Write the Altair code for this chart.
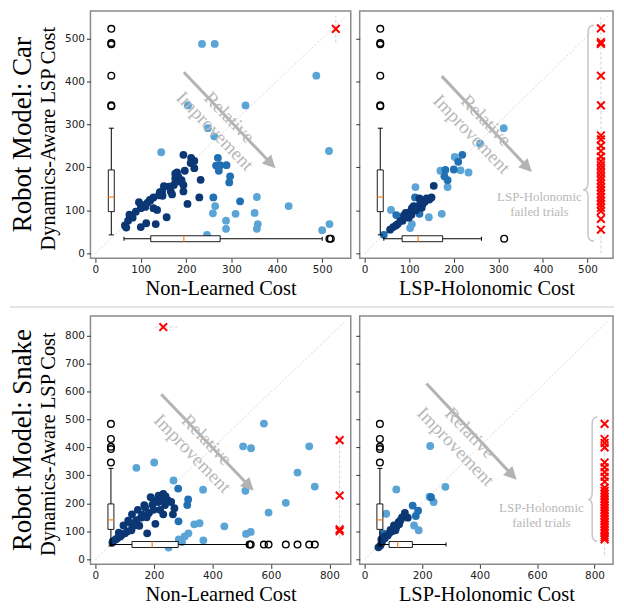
import altair as alt
import pandas as pd

# ---------------- DATA ----------------
# Car, Non-Learned cost (x) vs Dynamics-Aware LSP cost (y)
CAR_NL_LIGHT_X = [235, 263, 487, 204, 331, 248, 262, 145, 515, 426, 356, 264, 259, 288, 288, 246, 309, 351, 358, 356, 500, 516]
CAR_NL_LIGHT_Y = [487, 487, 413, 344, 344, 291, 272, 235, 238, 110, 131, 110, 93, 76, 57, 43, 92, 94, 68, 57, 54, 68]
CAR_NL_MED_X = [260, 319, 270, 275, 266, 289, 272, 297, 295]
CAR_NL_MED_Y = [130, 121, 222, 205, 204, 205, 192, 179, 165]
CAR_NL_DARK_X = [194, 211, 218, 210, 218, 197, 180, 176, 190, 194, 173, 166, 194, 147, 169, 232, 229, 203, 128, 121,
                 96, 110, 100, 128, 136, 89, 75, 82, 72, 65, 68, 157, 112, 100, 133, 183, 186, 162, 151, 120,
                 142, 148, 176, 105, 115, 140]
CAR_NL_DARK_Y = [229, 222, 215, 210, 198, 192, 188, 174, 170, 159, 159, 144, 144, 144, 137, 171, 130, 115, 130, 123,
                 119, 108, 105, 105, 101, 97, 90, 83, 76, 65, 60, 84, 70, 61, 68, 178, 167, 155, 156, 124,
                 142, 134, 185, 112, 118, 135]

# Car, LSP-Holonomic cost (x) vs Dynamics-Aware LSP cost (y)
CAR_H_LIGHT_X = [312, 259, 202, 215, 233, 170, 186, 114, 173, 144, 59, 106, 102]
CAR_H_LIGHT_Y = [291, 255, 224, 193, 188, 192, 154, 154, 92, 84, 101, 68, 59]
CAR_H_MED_X = [219, 210, 200, 181, 179, 113, 123, 71, 43, 186]
CAR_H_MED_Y = [229, 213, 195, 194, 179, 130, 92, 89, 43, 170]
CAR_H_DARK_X = [155, 123, 139, 130, 120, 106, 128, 92, 99, 85, 74, 64, 57, 110, 115, 135, 145, 100, 80, 70, 88, 125, 150, 105]
CAR_H_DARK_Y = [157, 128, 128, 115, 108, 105, 106, 94, 83, 76, 68, 61, 55, 110, 100, 120, 125, 95, 75, 65, 88, 118, 130, 90]

# Snake, Non-Learned cost (x) vs Dynamics-Aware LSP cost (y)
SNK_NL_LIGHT_X = [576, 505, 532, 731, 691, 750, 651, 592, 513, 368, 201, 140, 267, 441, 369, 338, 356, 318, 305, 285, 296, 250, 515, 531]
SNK_NL_LIGHT_Y = [485, 404, 397, 404, 310, 260, 202, 167, 245, 249, 346, 327, 282, 118, 68, 125, 129, 93, 82, 71, 62, 42, 91, 98]
SNK_NL_MED_X = [283, 284, 317, 314]
SNK_NL_MED_Y = [253, 136, 214, 194]
SNK_NL_DARK_X = [58, 69, 85, 101, 96, 123, 134, 125, 156, 167, 177, 183, 199, 205, 216, 232, 248, 259, 238, 221,
                 205, 232, 270, 265, 189, 145, 112, 75, 90, 110, 140, 160, 175, 195, 215, 60, 80, 150, 170, 225, 240, 120]
SNK_NL_DARK_Y = [60, 71, 82, 93, 121, 104, 121, 161, 149, 194, 93, 166, 177, 211, 228, 234, 211, 205, 194, 177,
                 127, 161, 183, 161, 222, 177, 138, 75, 88, 100, 140, 160, 150, 195, 205, 65, 95, 120, 185, 215, 225, 130]

# Snake, LSP-Holonomic cost (x) vs Dynamics-Aware LSP cost (y)
SNK_H_LIGHT_X = [228, 281, 110, 75, 172, 188, 240, 226]
SNK_H_LIGHT_Y = [405, 259, 250, 163, 121, 104, 205, 224]
SNK_H_MED_X = [231, 167, 186, 178, 64]
SNK_H_MED_Y = [222, 192, 174, 155, 93]
SNK_H_DARK_X = [140, 118, 102, 107, 85, 69, 58, 48, 150, 125, 95, 80, 130, 110, 90, 60, 55, 70, 100, 120]
SNK_H_DARK_Y = [166, 133, 121, 104, 93, 82, 71, 43, 149, 140, 100, 85, 150, 115, 105, 60, 50, 75, 110, 125]

# Box-plot summaries: [low whisker, q1, median, q3, high whisker] and outliers
CAR_Y_BOX = [43, 97, 131, 194, 291]
CAR_Y_OUT = [522, 489, 486, 413, 344, 342]
CAR_NL_X_BOX = [63, 122, 195, 275, 500]
CAR_NL_X_OUT = [516, 519]
CAR_H_X_BOX = [43, 84, 120, 175, 262]
CAR_H_X_OUT = [313]
SNK_Y_BOX = [48, 107, 141, 198, 325]
SNK_Y_OUT = [346, 394, 402, 430, 484]
SNK_NL_X_BOX = [53, 125, 194, 283, 522]
SNK_NL_X_OUT = [527, 531, 576, 592, 651, 691, 731, 750]
SNK_H_X_BOX = [50, 85, 115, 166, 283]
SNK_H_X_OUT = []

# Failed trials (plotted at the "failure" cost)
CAR_NL_FAIL_X = [530]
CAR_NL_FAIL_Y = [522]
CAR_H_FAIL_Y = [523, 491, 487, 413, 344, 274, 265, 250, 238, 225, 214, 205, 196, 187, 178, 170, 162, 154,
                146, 138, 130, 122, 114, 106, 98, 80, 55]
SNK_NL_FAIL_X = [232, 835, 835, 835, 835]
SNK_NL_FAIL_Y = [830, 426, 228, 107, 101]
SNK_H_FAIL_Y = [484, 430, 416, 400, 346, 329, 312, 295, 278, 256, 245, 235, 225, 215, 205, 195, 185, 175,
                165, 155, 145, 135, 125, 115, 105, 95, 85, 78, 71]

ROW_LABELS = ["Robot Model: Car", "Robot Model: Snake"]
Y_TITLE = "Dynamics-Aware LSP Cost"
X_TITLES = ["Non-Learned Cost", "LSP-Holonomic Cost"]
ARROW_TEXT = "Relative\nImprovement"
HOLO_TEXT = "LSP-Holonomic\nfailed trials"

# ---------------- STYLE ----------------
SERIF = "Liberation Serif"
SANS = "DejaVu Sans"
LIGHT, MED, DARK = "#5aa4d6", "#2170b4", "#0b3774"
ARROW_C = "#b3b3b3"
TXT_GRAY = "#b8b8b8"
XPATH = "M-1,-1L1,1M-1,1L1,-1"
HEAD = "M0,0L-13,-6.5L-13,6.5Z"


def brace_path(top, bot, stem, tip, r=7):
    return (f"M{tip},{top} Q{stem},{top} {stem},{top + r} L{stem},{-r} Q{stem},0 0,0 "
            f"Q{stem},0 {stem},{r} L{stem},{bot - r} Q{stem},{bot} {tip},{bot}")


def df1(**kw):
    return pd.DataFrame({k: [v] for k, v in kw.items()})


def panel(p):
    W, H, xmax, ymax = p["W"], p["H"], p["xmax"], p["ymax"]
    xs = alt.Scale(domain=[0, xmax], nice=False, zero=False)
    ys = alt.Scale(domain=[0, ymax], nice=False, zero=False)
    common = dict(tickSize=4, tickColor="#333333", tickWidth=1, labelFont=SANS, labelFontSize=10.5,
                  labelColor="#222222", labelPadding=2, domain=False, grid=False)
    xaxis = alt.Axis(values=p["xticks"], labelFlush=False, title=p["xtitle"], titleFont=SERIF,
                     titleFontSize=20.5, titleFontWeight="normal", titleColor="black", titlePadding=4, **common)
    if p["left"]:
        yaxis = alt.Axis(values=p["yticks"], title=None, **common)
    else:
        yaxis = alt.Axis(values=p["yticks"], labels=False, title=None, **common)
    X = alt.X("x:Q", scale=xs, axis=xaxis)
    Y = alt.Y("y:Q", scale=ys, axis=yaxis)
    X2 = alt.X2("x2")
    Y2 = alt.Y2("y2")
    layers = []

    # diagonal y = x
    layers.append(alt.Chart(df1(x=0, y=0, x2=xmax, y2=ymax)).mark_rule(
        color="#cfcfcf", strokeWidth=0.8, strokeDash=[2, 2]).encode(x=X, y=Y, x2=X2, y2=Y2))
    # dashed guide lines for failures
    if p["fail_lines"]:
        layers.append(alt.Chart(pd.DataFrame(p["fail_lines"])).mark_rule(
            color="#cccccc", strokeWidth=0.9, strokeDash=[3, 2]).encode(x=X, y=Y, x2=X2, y2=Y2))

    # scatter
    rows = []
    for s, (xx, yy) in (("l", p["light"]), ("m", p["med"]), ("d", p["dark"])):
        rows += [{"x": a, "y": b, "s": s} for a, b in zip(xx, yy)]
    layers.append(alt.Chart(pd.DataFrame(rows)).mark_circle(size=62, opacity=1).encode(
        x=X, y=Y, color=alt.Color("s:N", scale=alt.Scale(domain=["l", "m", "d"], range=[LIGHT, MED, DARK]),
                                  legend=None)))

    # horizontal box plot (x distribution)
    lo, q1, md, q3, hi = p["xbox"]
    at = p["xbox_at"]
    layers.append(alt.Chart(pd.DataFrame([{"x": lo, "x2": q1, "y": at}, {"x": q3, "x2": hi, "y": at}])).mark_rule(
        color="black", strokeWidth=1).encode(x=X, x2=X2, y=Y))
    layers.append(alt.Chart(df1(x=q1, x2=q3, y=at)).mark_bar(
        height=6, fill="white", stroke="black", strokeWidth=0.9, opacity=1).encode(x=X, x2=X2, y=Y))
    layers.append(alt.Chart(df1(x=md, y=at)).mark_tick(
        orient="vertical", size=6, thickness=1.2, color="#ff7f0e", opacity=1).encode(x=X, y=Y))
    layers.append(alt.Chart(pd.DataFrame({"x": [lo, hi], "y": [at, at]})).mark_tick(
        orient="vertical", size=4, thickness=1, color="black", opacity=1).encode(x=X, y=Y))
    if p["xout"]:
        layers.append(alt.Chart(pd.DataFrame({"x": p["xout"], "y": [at] * len(p["xout"])})).mark_point(
            shape="circle", size=45, filled=False, color="black", strokeWidth=1.4, opacity=1).encode(x=X, y=Y))

    # vertical box plot (y distribution)
    lo, q1, md, q3, hi = p["ybox"]
    at = p["ybox_at"]
    layers.append(alt.Chart(pd.DataFrame([{"x": at, "y": lo, "y2": q1}, {"x": at, "y": q3, "y2": hi}])).mark_rule(
        color="black", strokeWidth=1).encode(x=X, y=Y, y2=Y2))
    layers.append(alt.Chart(df1(x=at, y=q1, y2=q3)).mark_bar(
        width=6, fill="white", stroke="black", strokeWidth=0.9, opacity=1).encode(x=X, y=Y, y2=Y2))
    layers.append(alt.Chart(df1(x=at, y=md)).mark_tick(
        orient="horizontal", size=6, thickness=1.2, color="#ff7f0e", opacity=1).encode(x=X, y=Y))
    layers.append(alt.Chart(pd.DataFrame({"x": [at, at], "y": [lo, hi]})).mark_tick(
        orient="horizontal", size=5, thickness=1, color="black", opacity=1).encode(x=X, y=Y))
    layers.append(alt.Chart(pd.DataFrame({"x": [at] * len(p["yout"]), "y": p["yout"]})).mark_point(
        shape="circle", size=45, filled=False, color="black", strokeWidth=1.4, opacity=1).encode(x=X, y=Y))

    # failed trials
    layers.append(alt.Chart(pd.DataFrame({"x": p["fail_x"], "y": p["fail_y"]})).mark_point(
        shape=XPATH, size=60, filled=False, color="red", strokeWidth=2, opacity=1).encode(x=X, y=Y))

    # relative improvement arrow
    (ax0, ay0), (ax1, ay1) = p["arrow"]
    k = 0.92
    layers.append(alt.Chart(df1(x=ax0, y=ay0, x2=ax0 + k * (ax1 - ax0), y2=ay0 + k * (ay1 - ay0))).mark_rule(
        color=ARROW_C, strokeWidth=3).encode(x=X, y=Y, x2=X2, y2=Y2))
    layers.append(alt.Chart(df1(x=ax1, y=ay1)).mark_point(
        shape=HEAD, size=4, filled=True, color=ARROW_C, angle=46, opacity=1).encode(x=X, y=Y))
    tx, ty = p["arrow_text"]
    layers.append(alt.Chart(df1(x=tx, y=ty, t=ARROW_TEXT)).mark_text(
        angle=46, font=SERIF, fontSize=19, color=TXT_GRAY, lineBreak="\n", lineHeight=20,
        align="center", baseline="middle").encode(x=X, y=Y, text="t:N"))

    # holonomic-failed annotation
    if p.get("holo"):
        h = p["holo"]
        layers.append(alt.Chart(df1(x=h["tx"], y=h["ty"], t=HOLO_TEXT)).mark_text(
            font=SERIF, fontSize=13, color=TXT_GRAY, lineBreak="\n", lineHeight=15.5,
            align="center", baseline="middle").encode(x=X, y=Y, text="t:N"))
        scl = H / ymax
        path = brace_path(-(h["top"] - h["cy"]) * scl, (h["cy"] - h["bot"]) * scl, h["stem"], h["tip"])
        layers.append(alt.Chart(df1(x=h["cx"], y=h["cy"])).mark_point(
            shape=path, size=4, filled=False, color="#c6c6c6", strokeWidth=1.5, opacity=1).encode(x=X, y=Y))

    if p.get("row_label"):
        layers.append(alt.Chart(df1(t=p["row_label"])).mark_text(
            angle=270, font=SERIF, fontSize=27, color="black", align="center", baseline="middle").encode(
            x=alt.value(-68), y=alt.value(H / 2), text="t:N"))
        layers.append(alt.Chart(df1(t=Y_TITLE)).mark_text(
            angle=270, font=SERIF, fontSize=20.5, color="black", align="center", baseline="middle").encode(
            x=alt.value(-42), y=alt.value(H / 2 + 4), text="t:N"))
    if p.get("separator"):
        layers.append(alt.Chart(df1(t="sep")).mark_rule(color="#e4e4e4", strokeWidth=2).encode(
            x=alt.value(-81), x2=alt.value(527), y=alt.value(298)))

    return alt.layer(*layers).properties(width=W, height=H)


WL, WR, HT, HB = 262, 255, 249, 250
CAR_TICKS = [0, 100, 200, 300, 400, 500]

car_nl = panel(dict(
    W=WL, H=HT, xmax=552, ymax=552, xticks=CAR_TICKS, yticks=CAR_TICKS, xtitle=X_TITLES[0], left=True,
    light=(CAR_NL_LIGHT_X, CAR_NL_LIGHT_Y), med=(CAR_NL_MED_X, CAR_NL_MED_Y), dark=(CAR_NL_DARK_X, CAR_NL_DARK_Y),
    xbox=CAR_NL_X_BOX, xout=CAR_NL_X_OUT, xbox_at=34, ybox=CAR_Y_BOX, yout=CAR_Y_OUT, ybox_at=35,
    fail_x=CAR_NL_FAIL_X, fail_y=CAR_NL_FAIL_Y,
    fail_lines=[{"x": 530, "x2": 530, "y": 490, "y2": 552}],
    arrow=((195, 421), (397, 198)), arrow_text=(295, 316),
    row_label=ROW_LABELS[0], separator=True))

car_h = panel(dict(
    W=WR, H=HT, xmax=546, ymax=552, xticks=CAR_TICKS, yticks=CAR_TICKS, xtitle=X_TITLES[1], left=False,
    light=(CAR_H_LIGHT_X, CAR_H_LIGHT_Y), med=(CAR_H_MED_X, CAR_H_MED_Y), dark=(CAR_H_DARK_X, CAR_H_DARK_Y),
    xbox=CAR_H_X_BOX, xout=CAR_H_X_OUT, xbox_at=34, ybox=CAR_Y_BOX, yout=CAR_Y_OUT, ybox_at=35,
    fail_x=[530] * len(CAR_H_FAIL_Y), fail_y=CAR_H_FAIL_Y,
    fail_lines=[{"x": 530, "x2": 530, "y": 0, "y2": 552}],
    arrow=((173, 412), (375, 189)), arrow_text=(272, 309),
    holo=dict(tx=392, ty=131, cx=490, cy=148, top=515, bot=33, stem=5, tip=11)))

SNK_TICKS_X = [0, 200, 400, 600, 800]
SNK_TICKS_Y = [0, 100, 200, 300, 400, 500, 600, 700, 800]

snk_nl = panel(dict(
    W=WL, H=HB, xmax=856, ymax=852, xticks=SNK_TICKS_X, yticks=SNK_TICKS_Y, xtitle=X_TITLES[0], left=True,
    light=(SNK_NL_LIGHT_X, SNK_NL_LIGHT_Y), med=(SNK_NL_MED_X, SNK_NL_MED_Y), dark=(SNK_NL_DARK_X, SNK_NL_DARK_Y),
    xbox=SNK_NL_X_BOX, xout=SNK_NL_X_OUT, xbox_at=53, ybox=SNK_Y_BOX, yout=SNK_Y_OUT, ybox_at=53,
    fail_x=SNK_NL_FAIL_X, fail_y=SNK_NL_FAIL_Y,
    fail_lines=[{"x": 835, "x2": 835, "y": 76, "y2": 441}, {"x": 203, "x2": 285, "y": 830, "y2": 830}],
    arrow=((225, 590), (541, 245)), arrow_text=(380, 427),
    row_label=ROW_LABELS[1]))

snk_h = panel(dict(
    W=WR, H=HB, xmax=847, ymax=852, xticks=SNK_TICKS_X, yticks=SNK_TICKS_Y, xtitle=X_TITLES[1], left=False,
    light=(SNK_H_LIGHT_X, SNK_H_LIGHT_Y), med=(SNK_H_MED_X, SNK_H_MED_Y), dark=(SNK_H_DARK_X, SNK_H_DARK_Y),
    xbox=SNK_H_X_BOX, xout=SNK_H_X_OUT, xbox_at=53, ybox=SNK_Y_BOX, yout=SNK_Y_OUT, ybox_at=53,
    fail_x=[835] * len(SNK_H_FAIL_Y), fail_y=SNK_H_FAIL_Y,
    fail_lines=[{"x": 835, "x2": 835, "y": 15, "y2": 503}],
    arrow=((215, 628), (529, 284)), arrow_text=(366, 452),
    holo=dict(tx=615, ty=184, cx=778, cy=214, top=497, bot=71, stem=4, tip=9)))

chart = alt.concat(car_nl, car_h, snk_nl, snk_h, columns=2, bounds="flush",
                   spacing=alt.RowColnumber(row=58, column=9)).properties(padding=0).configure_view(
    stroke="#8a8a8a", strokeWidth=1.5)

chart.save("out.html", embed_options={"renderer": "svg", "actions": False})
